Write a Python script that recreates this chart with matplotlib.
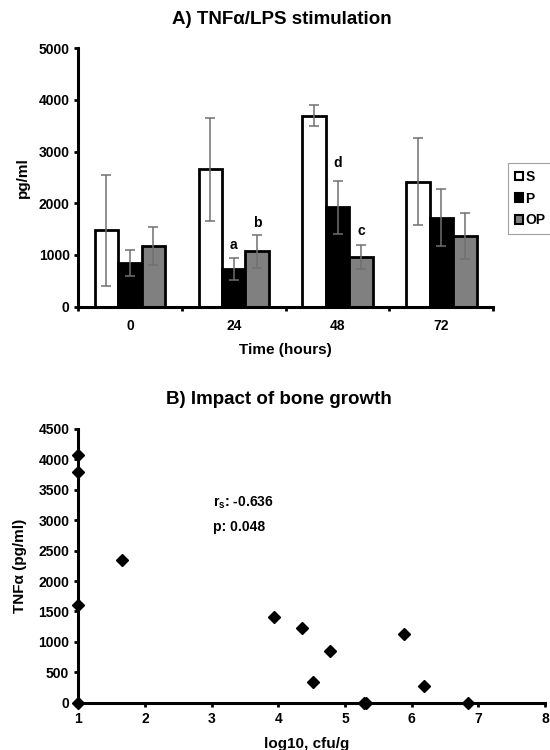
import numpy as np
import matplotlib
matplotlib.use("Agg")
import matplotlib.pyplot as plt
from matplotlib.patches import Patch

plt.rcParams['font.family'] = ['Liberation Sans', 'DejaVu Sans']
plt.rcParams['font.weight'] = 'bold'
plt.rcParams['mathtext.fontset'] = 'custom'
plt.rcParams['mathtext.rm'] = 'Liberation Sans:bold'
plt.rcParams['mathtext.bf'] = 'Liberation Sans:bold'

# panel A data
hours = ['0', '24', '48', '72']
s_mean = [1480, 2655, 3695, 2420]
s_err = [1075, 1000, 205, 835]
p_mean = [845, 730, 1920, 1720]
p_err = [260, 210, 515, 555]
op_mean = [1175, 1075, 965, 1370]
op_err = [375, 320, 230, 450]
sig_letters = ['a', 'b', 'd', 'c']
sig_y = [1195, 1610, 2775, 1470]

# panel B data
log_cfu = [1.0, 1.0, 1.0, 1.0, 1.66, 3.94, 4.35, 4.52, 4.78, 5.28, 5.32, 5.88, 6.18, 6.85]
tnf = [4080, 3800, 1610, 0, 2345, 1410, 1235, 335, 850, 0, 0, 1135, 270, 0]

fig = plt.figure(figsize=(5.5, 7.5), dpi=100)

# ---- A) bars
ax = fig.add_axes([0.1418, 0.5911, 0.7551, 0.3445])
x = np.arange(len(hours))
w = 0.226
ek = dict(ecolor='#707070', elinewidth=1.1, capsize=3.5, capthick=1.1)
ax.bar(x - w, s_mean, w, yerr=s_err, color='white', edgecolor='black', linewidth=2, error_kw=ek, zorder=2)
ax.bar(x, p_mean, w, yerr=p_err, color='black', edgecolor='black', linewidth=2, error_kw=ek, zorder=2)
ax.bar(x + w, op_mean, w, yerr=op_err, color='#808080', edgecolor='black', linewidth=2, error_kw=ek, zorder=2)

sig_x = [1, 1 + w, 2, 2 + w]
for lx, ly, t in zip(sig_x, sig_y, sig_letters):
    ax.text(lx, ly, t, ha='center', va='center', fontsize=10, fontweight='bold')

ax.set_xlim(-0.5, 3.5)
ax.set_ylim(0, 5000)
ax.set_yticks(range(0, 5001, 1000))
ax.set_xticks(x)
ax.set_xticklabels(hours)
ax.set_xticks(np.arange(-0.5, 3.6, 1), minor=True)
ax.tick_params(axis='x', which='major', length=0, pad=9, labelsize=10)
ax.tick_params(axis='x', which='minor', length=3, width=2, direction='out')
ax.tick_params(axis='y', length=3, width=2, direction='out', labelsize=10, pad=3)
for sp in ['top', 'right']:
    ax.spines[sp].set_visible(False)
for sp in ['left', 'bottom']:
    ax.spines[sp].set_linewidth(2.2)
ax.set_xlabel('Time (hours)', fontsize=11, fontweight='bold')
ax.xaxis.set_label_coords(0.5, -0.14)
ax.set_ylabel('pg/ml', fontsize=11, fontweight='bold')
ax.yaxis.set_label_coords(-0.115, 0.5)
ax.set_title('A) TNFα/LPS stimulation', fontsize=13.5, fontweight='bold', x=0.49, y=1.06)

handles = [Patch(facecolor='white', edgecolor='black', linewidth=1.5),
           Patch(facecolor='black', edgecolor='black', linewidth=1.5),
           Patch(facecolor='#808080', edgecolor='black', linewidth=1.5)]
leg = fig.legend(handles, ['S', 'P', 'OP'], loc='upper left', bbox_to_anchor=(508 / 550, 1 - 163 / 750),
                 fontsize=10, handlelength=0.6, handleheight=0.6, handletextpad=0.15,
                 labelspacing=0.55, borderpad=0.5, borderaxespad=0, fancybox=False, frameon=True)
leg._legend_box.sep = 0
leg.get_frame().set_edgecolor('#888888')
leg.get_frame().set_linewidth(0.8)
for t in leg.get_texts():
    t.set_fontweight('bold')

# ---- B) scatter
bx = fig.add_axes([0.1424, 0.0631, 0.8485, 0.3649])
bx.plot(log_cfu, tnf, 'D', color='black', markersize=6.5, clip_on=False, zorder=3)
bx.set_xlim(1, 8)
bx.set_ylim(0, 4500)
bx.set_xticks(range(1, 9))
bx.set_yticks(range(0, 4501, 500))
bx.tick_params(axis='both', length=3, width=2, direction='out', labelsize=10)
bx.tick_params(axis='x', pad=4)
for sp in ['top', 'right']:
    bx.spines[sp].set_visible(False)
for sp in ['left', 'bottom']:
    bx.spines[sp].set_linewidth(2.2)
bx.set_xlabel('log10, cfu/g', fontsize=11, fontweight='bold')
bx.xaxis.set_label_coords(0.49, -0.125)
bx.set_ylabel('TNFα (pg/ml)', fontsize=11, fontweight='bold')
bx.yaxis.set_label_coords(-0.11, 0.5)
bx.set_title('B) Impact of bone growth', fontsize=13.5, fontweight='bold', x=0.43, y=1.06)
bx.text(3.02, 3280, r'r$_{\mathrm{s}}$: -0.636', fontsize=10, fontweight='bold', va='center')
bx.text(3.02, 2895, 'p: 0.048', fontsize=10, fontweight='bold', va='center')

fig.savefig('out.png', dpi=100)
